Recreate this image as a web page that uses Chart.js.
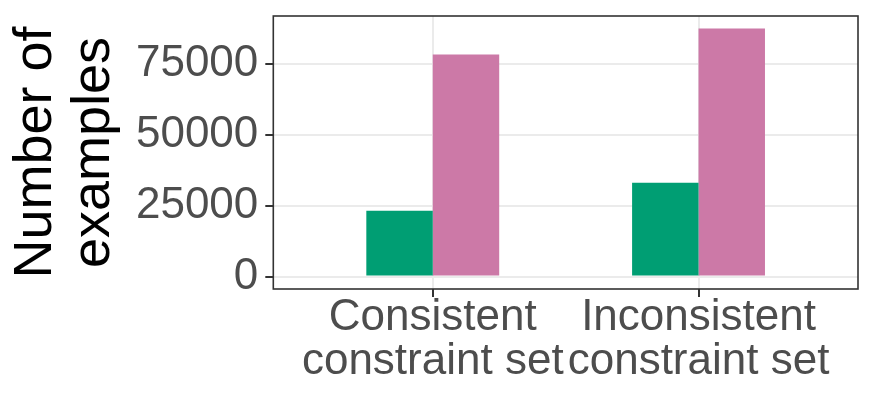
<!DOCTYPE html>
<html>
<head>
<meta charset="utf-8">
<script src="https://cdn.jsdelivr.net/npm/chart.js@4"></script>
<style>
  html, body { margin: 0; padding: 0; background: #ffffff; }
  canvas { display: block; }
</style>
</head>
<body>
<canvas id="c" width="872" height="397"></canvas>
<script>
// ---- data ----
const categories = [["Consistent", "constraint set"], ["Inconsistent", "constraint set"]];
const consistentSeries = [23250, 33150];   // green
const inconsistentSeries = [78400, 87600]; // pink
const yTickValues = [0, 25000, 50000, 75000];
const yAxisTitle = ["Number of", "examples"];

// ---- derived ----
const allVals = consistentSeries.concat(inconsistentSeries);
const dataMax = Math.max(...allVals);
const yMin = -0.05 * dataMax;
const yMax = 1.05 * dataMax;
const yMinor = yTickValues.map(v => v + (yTickValues[1] - yTickValues[0]) / 2);
const yAll = yTickValues.concat(yMinor).sort((a, b) => a - b);
const majorSet = new Set(yTickValues);

const toPts = arr => arr.map((v, i) => ({x: i + 1, y: v}));

const FONT = "'Liberation Sans', Arial, Helvetica, sans-serif";

const borderPlugin = {
  id: 'panelBorder',
  afterDatasetsDraw(chart) {
    const {ctx, chartArea: {left, top, right, bottom}} = chart;
    ctx.save();
    ctx.strokeStyle = '#333333';
    ctx.lineWidth = 1.6;
    ctx.strokeRect(left, top, right - left, bottom - top);
    ctx.restore();
  }
};

new Chart(document.getElementById('c'), {
  type: 'bar',
  data: {
    datasets: [
      { data: toPts(consistentSeries), backgroundColor: '#009E73', borderWidth: 0 },
      { data: toPts(inconsistentSeries), backgroundColor: '#CC79A7', borderWidth: 0 }
    ]
  },
  options: {
    responsive: false,
    devicePixelRatio: 1,
    animation: false,
    categoryPercentage: 0.5,
    barPercentage: 1.0,
    layout: { padding: { left: 0, top: 16, right: 14, bottom: 0 } },
    plugins: { legend: { display: false }, tooltip: { enabled: false } },
    scales: {
      x: {
        type: 'linear',
        min: 0.4,
        max: 2.6,
        offset: false,
        afterBuildTicks: s => { s.ticks = categories.map((c, i) => ({value: i + 1})); },
        afterFit: s => { s.height = 108; s.paddingLeft = 0; s.paddingRight = 0; },
        border: { display: false },
        grid: {
          offset: false,
          color: '#EBEBEB',
          lineWidth: 2,
          drawTicks: true,
          tickLength: 8,
          tickColor: '#333333',
          tickWidth: 2
        },
        ticks: {
          autoSkip: false,
          maxRotation: 0,
          minRotation: 0,
          padding: -1,
          color: '#4D4D4D',
          font: { family: FONT, size: 44, lineHeight: 1.0 },
          callback: v => categories[Math.round(v) - 1]
        }
      },
      y: {
        type: 'linear',
        min: yMin,
        max: yMax,
        afterBuildTicks: s => { s.ticks = yAll.map(v => ({value: v})); },
        afterFit: s => { s.width = 273.3; s.paddingTop = 0; s.paddingBottom = 0; },
        border: { display: false },
        grid: {
          color: '#EBEBEB',
          lineWidth: ctx => (majorSet.has(ctx.tick && ctx.tick.value) ? 2 : 1),
          drawTicks: true,
          tickLength: 8,
          tickColor: ctx => (majorSet.has(ctx.tick && ctx.tick.value) ? '#333333' : 'rgba(0,0,0,0)'),
          tickWidth: 2
        },
        ticks: {
          padding: 7,
          color: '#4D4D4D',
          font: { family: FONT, size: 44 },
          callback: v => (majorSet.has(v) ? String(v) : '')
        },
        title: {
          display: true,
          text: yAxisTitle,
          color: '#000000',
          font: { family: FONT, size: 54, lineHeight: 1.074 },
          padding: { top: 7, bottom: 0 }
        }
      }
    }
  },
  plugins: [borderPlugin]
});
</script>
</body>
</html>
